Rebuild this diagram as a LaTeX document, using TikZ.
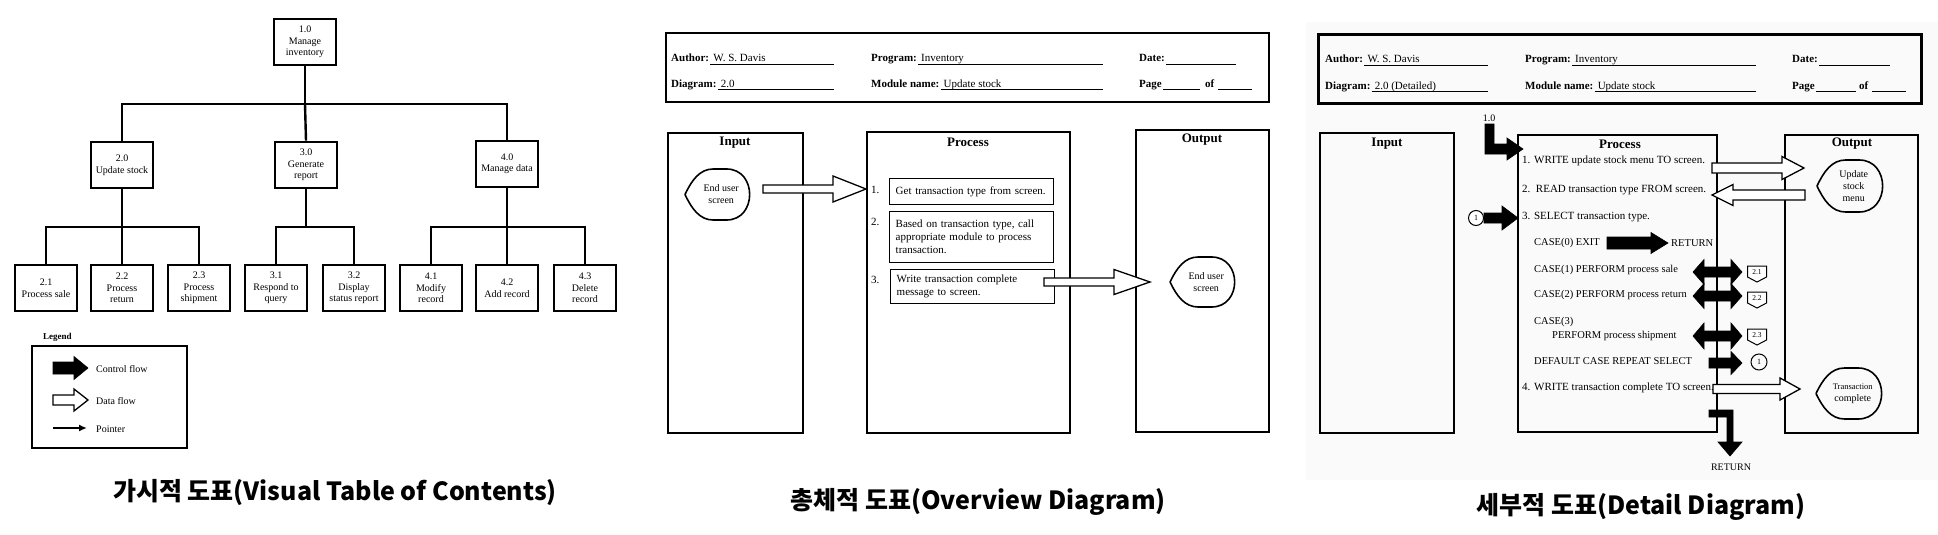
\documentclass[tikz,border=0pt]{standalone}
\usepackage{fontspec}
\setmainfont{Liberation Serif}
\newfontfamily\kr{Noto Sans CJK KR}
\usetikzlibrary{arrows.meta,calc}
\newcommand\rarr[7]{% style, xtail, xtip, y, shaft half, head half, head len (signed)
  \draw[#1] (#2,{#4-#5}) -- ({#3-(#7)},{#4-#5}) -- ({#3-(#7)},{#4-#6}) -- (#3,#4)
    -- ({#3-(#7)},{#4+#6}) -- ({#3-(#7)},{#4+#5}) -- (#2,{#4+#5}) -- cycle;}
\newcommand\darr[7]{% style, xl, xr, y, shaft half, head half, head len
  \draw[#1] (#2,#4) -- ({#2+#7},{#4-#6}) -- ({#2+#7},{#4-#5}) -- ({#3-#7},{#4-#5}) -- ({#3-#7},{#4-#6})
    -- (#3,#4) -- ({#3-#7},{#4+#6}) -- ({#3-#7},{#4+#5}) -- ({#2+#7},{#4+#5}) -- ({#2+#7},{#4+#6}) -- cycle;}
\newcommand\dispsym[6]{% name, x0, y0, x1, y1, text
  \pgfmathsetmacro\dw{#4-#2}\pgfmathsetmacro\dh{#5-#3}\pgfmathsetmacro\dyc{(#3+#5)/2}
  \draw[dispst] (#2,\dyc) .. controls ({#2+0.10*\dw},{#3+0.22*\dh}) and ({#2+0.22*\dw},#3) .. ({#2+0.42*\dw},#3)
    -- ({#2+0.62*\dw},#3) .. controls ({#4+0.08*\dw},#3) and ({#4+0.08*\dw},#5) .. ({#2+0.62*\dw},#5)
    -- ({#2+0.42*\dw},#5) .. controls ({#2+0.22*\dw},#5) and ({#2+0.10*\dw},{#5-0.22*\dh}) .. (#2,\dyc);
  \node[disptext] (#1) at ({(#2+#4)/2+0.04*\dw},\dyc) {#6};}
\newcommand\hfield[6]{% name, x, baseline y, label, value, x end of rule
  \node[hd,font=\bfseries\fontsize{11}{13}\selectfont] (#1) at (#2,#3) {#4};
  \draw[rule] ($(#1.base east)+(1,2)$) -- (#6,{#3+2});
  \node[hd] at ($(#1.base east)+(4,0)$) {#5};}
\newcommand\offpage[4]{% name, cx, ytop, text
  \draw[line width=1pt,fill=white] ({#2-9.5},#3) -- ({#2+9.5},#3) -- ({#2+9.5},{#3+11}) -- (#2,{#3+16}) -- ({#2-9.5},{#3+11}) -- cycle;
  \node[font=\fontsize{7.5}{8}\selectfont,inner sep=0pt] (#1) at (#2,{#3+6.5}) {#4};}
\begin{document}
\begin{tikzpicture}[x=1pt,y=-1pt,
  vbox/.style={draw, line width=2.6pt, minimum width=62pt, minimum height=46pt, align=center,
    inner sep=1pt, font=\fontsize{10}{11.5}\selectfont},
  tree/.style={line width=2.4pt},
  frame/.style={draw, line width=2.4pt},
  ctrl/.style={fill=black, draw=black, line width=0.6pt},
  data/.style={fill=white, draw=black, line width=1.3pt},
  dispst/.style={line width=1.6pt},
  disptext/.style={align=center, inner sep=0pt, font=\fontsize{10}{12}\selectfont},
  txt/.style={font=\fontsize{11}{13}\selectfont, inner sep=0pt},
  hd/.style={txt, anchor=base west},
  rule/.style={line width=0.8pt},
  ptxt/.style={txt, anchor=west},
  ctxt/.style={ptxt, font=\fontsize{10.5}{12}\selectfont},
  stepbox/.style={draw, line width=1.4pt, minimum width=164pt, anchor=north west, align=left,
    inner xsep=6pt, inner ysep=4pt, font=\fontsize{11}{13}\selectfont, text width=152pt},
  coltitle/.style={font=\bfseries\fontsize{13}{15}\selectfont, inner sep=0pt},
  title/.style={font=\kr\bfseries\fontsize{25}{29}\selectfont, inner sep=0pt}]
\useasboundingbox (0,0) rectangle (1938,535);
\fill[white] (0,0) rectangle (1938,535);

% ================= Visual table of contents =================
\node[vbox] (v10) at (305,42) {1.0\\Manage\\inventory};
\node[vbox] (v20) at (122,165) {2.0\\Update stock};
\node[vbox] (v30) at (306,165) {3.0\\Generate\\report};
\node[vbox] (v40) at (507,164) {4.0\\Manage data};
\node[vbox] (v21) at (46,288) {2.1\\Process sale};
\node[vbox] (v22) at (122,288) {2.2\\Process\\return};
\node[vbox] (v23) at (199,288) {2.3\\Process\\shipment};
\node[vbox] (v31) at (276,288) {3.1\\Respond to\\query};
\node[vbox] (v32) at (354,288) {3.2\\Display\\status report};
\node[vbox] (v41) at (431,288) {4.1\\Modify\\record};
\node[vbox] (v42) at (507,288) {4.2\\Add record};
\node[vbox] (v43) at (585,288) {4.3\\Delete\\record};
\coordinate (b1) at (305,104);
\coordinate (b2) at (122,227);
\coordinate (b3) at (306,227);
\coordinate (b4) at (507,227);
\draw[tree] (v10.south) -- (b1);
\draw[tree] (v20.north) |- (b1) -| (v40.north);
\draw[tree] (b1) -- (v30.north);
\draw[tree] (v20.south) -- (b2);
\draw[tree] (v21.north) |- (b2) -| (v23.north);
\draw[tree] (b2) -- (v22.north);
\draw[tree] (v30.south) -- (b3);
\draw[tree] (v31.north) |- (b3) -| (v32.north);
\draw[tree] (v40.south) -- (b4);
\draw[tree] (v41.north) |- (b4) -| (v43.north);
\draw[tree] (b4) -- (v42.north);

% legend
\node[font=\bfseries\fontsize{9}{10}\selectfont, anchor=west, inner sep=0pt] (lgt) at (43,337) {Legend};
\node[frame, line width=1.8pt, minimum width=155pt, minimum height=102pt, anchor=north west] (lgb) at (31,345) {};
\rarr{ctrl}{53}{88}{368}{6}{11.5}{14}
\node[txt, font=\fontsize{10}{12}\selectfont, anchor=west] (lg1) at (96,369) {Control flow};
\rarr{data}{53}{88}{400}{5}{11}{14}
\node[txt, font=\fontsize{10}{12}\selectfont, anchor=west] (lg2) at (96,401) {Data flow};
\coordinate (pa) at (53,428);
\coordinate (pb) at (87,428);
\draw[line width=1.6pt, -{Latex[length=8pt,width=7pt]}] (pa) -- (pb);
\node[txt, font=\fontsize{10}{12}\selectfont, anchor=west] (lg3) at (96,429) {Pointer};

\node[title] (t1) at (335,492) {가시적 도표(Visual Table of Contents)};

% ================= Overview diagram =================
\draw[frame, line width=2.8pt] (666,33) rectangle (1269,102);
\hfield{oa}{671}{62}{Author:}{W. S. Davis}{834}
\hfield{op}{871}{62}{Program:}{Inventory}{1103}
\hfield{od}{1139}{62}{Date:}{}{1236}
\hfield{og}{671}{87}{Diagram:}{2.0}{834}
\hfield{om}{871}{87}{Module name:}{Update stock}{1103}
\node[hd,font=\bfseries\fontsize{11}{13}\selectfont] (opg) at (1139,87) {Page};
\draw[rule] (1163,89) -- (1200,89);
\node[hd,font=\bfseries\fontsize{11}{13}\selectfont] (oof) at (1205,87) {of};
\draw[rule] (1218,89) -- (1252,89);

\draw[frame] (668,133) rectangle (803,433);
\draw[frame] (867,132) rectangle (1070,433);
\draw[frame] (1136,130) rectangle (1269,432);
\node[coltitle] (oin) at (735,143) {Input};
\node[coltitle] (opr) at (968,142) {Process};
\node[coltitle] (oou) at (1202,140) {Output};

\dispsym{oeu}{685}{169}{752}{220}{End user\\screen}
\node[ptxt] (on1) at (871,190) {1.};
\node[stepbox, minimum height=26pt] (os1) at (889,178) {Get transaction type from screen.};
\node[ptxt] (on2) at (871,222) {2.};
\node[stepbox, minimum height=51pt] (os2) at (889,211) {Based on transaction type, call\\appropriate module to process\\transaction.};
\node[ptxt] (on3) at (871,280) {3.};
\node[stepbox, minimum height=34pt] (os3) at (890,269) {Write transaction complete\\message to screen.};
\rarr{data}{763}{866}{189}{4}{13}{33}
\dispsym{oeo}{1170}{257}{1237}{307}{End user\\screen}
\rarr{data}{1044}{1150}{282}{4}{12.5}{36}

\node[title] (t2) at (978,502) {총체적 도표(Overview Diagram)};

% ================= Detail diagram =================
\fill[black!2] (1306,22) rectangle (1938,480);
\draw[frame, line width=3pt] (1318,35) rectangle (1921,103);
\hfield{da}{1325}{63}{Author:}{W. S. Davis}{1488}
\hfield{dp}{1525}{63}{Program:}{Inventory}{1756}
\hfield{dd}{1792}{63}{Date:}{}{1890}
\hfield{dg}{1325}{89}{Diagram:}{2.0 (Detailed)}{1488}
\hfield{dm}{1525}{89}{Module name:}{Update stock}{1756}
\node[hd,font=\bfseries\fontsize{11}{13}\selectfont] (dpg) at (1792,89) {Page};
\draw[rule] (1816,91) -- (1856,91);
\node[hd,font=\bfseries\fontsize{11}{13}\selectfont] (dof) at (1859,89) {of};
\draw[rule] (1872,91) -- (1906,91);

\draw[frame] (1320,133) rectangle (1454,433);
\draw[frame] (1518,135) rectangle (1717,432);
\draw[frame] (1785,135) rectangle (1918,433);
\node[coltitle] (din) at (1387,144) {Input};
\node[coltitle] (dpr) at (1620,144) {Process};
\node[coltitle] (dou) at (1852,144) {Output};

\node[txt, font=\fontsize{10}{12}\selectfont] (d10) at (1489,118) {1.0};
\draw[ctrl] (1485,124) -- (1494,124) -- (1494,144) -- (1507,144) -- (1507,138) -- (1523,149)
  -- (1507,160) -- (1507,154) -- (1485,154) -- cycle;

\node[ptxt] (dl1) at (1522,161) {1. WRITE update stock menu TO screen.};
\node[ptxt] (dl2) at (1522,190) {2.\ \ READ transaction type FROM screen.};
\node[ptxt] (dl3) at (1522,217) {3. SELECT transaction type.};
\node[ctxt] (dc0) at (1534,243) {CASE(0) EXIT};
\rarr{ctrl}{1607}{1668}{243}{6}{10.5}{17}
\node[ctxt] (dret) at (1671,243) {RETURN};
\node[ctxt] (dc1) at (1534,270) {CASE(1) PERFORM process sale};
\node[ctxt] (dc2) at (1534,295) {CASE(2) PERFORM process return};
\node[ctxt] (dc3) at (1534,322) {CASE(3)};
\node[ctxt] (dc3b) at (1552,336) {PERFORM process shipment};
\node[ctxt] (dcd) at (1534,361) {DEFAULT CASE REPEAT SELECT};
\node[ptxt] (dl4) at (1522,388) {4. WRITE transaction complete TO screen.};

\darr{ctrl}{1693}{1742}{272}{5}{12.5}{11}
\darr{ctrl}{1693}{1742}{296}{5}{12.5}{11}
\darr{ctrl}{1693}{1742}{336}{5}{13}{11}
\rarr{ctrl}{1709}{1742}{363}{5}{11.5}{11}
\offpage{p21}{1757}{266}{2.1}
\offpage{p22}{1757}{292}{2.2}
\offpage{p23}{1757}{329}{2.3}
\node[draw, circle, line width=1pt, minimum size=16pt, inner sep=0pt, font=\fontsize{8}{9}\selectfont] (c1r) at (1759,362) {1};

% left connector into process
\node[draw, circle, line width=1pt, minimum size=15pt, inner sep=0pt, font=\fontsize{8}{9}\selectfont, fill=white] (c1l) at (1476,218) {1};
\rarr{ctrl}{1484}{1518}{218}{5}{12}{16}

% data flows with output
\dispsym{dusm}{1817}{160}{1885}{212}{Update\\stock\\menu}
\dispsym{dtc}{1816}{368}{1884}{419}{\fontsize{8.5}{10}\selectfont Transaction\\complete}
\rarr{data}{1712}{1804}{168}{5}{11.5}{22}
\rarr{data}{1805}{1712}{195}{5}{10.5}{-21}
\rarr{data}{1713}{1800}{389}{4.5}{11}{20}

% return
\draw[ctrl] (1709,410) -- (1733,410) -- (1733,442) -- (1742,442) -- (1730,456) -- (1718,442)
  -- (1727,442) -- (1727,417) -- (1709,417) -- cycle;
\node[txt, font=\fontsize{10}{12}\selectfont] (dret2) at (1731,467) {RETURN};

\node[title] (t3) at (1641,507) {세부적 도표(Detail Diagram)};
\end{tikzpicture}
\end{document}
